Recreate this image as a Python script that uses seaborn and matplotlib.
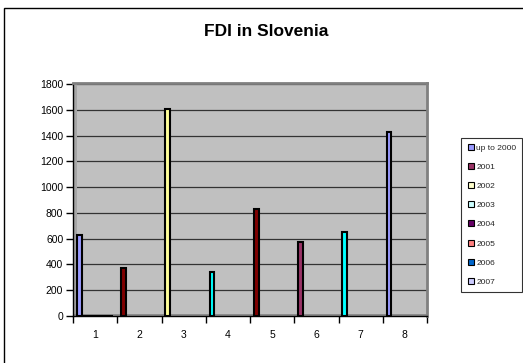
import matplotlib
matplotlib.use("Agg")
import matplotlib.pyplot as plt
from matplotlib.patches import Rectangle
from matplotlib.lines import Line2D
import seaborn as sns
import pandas as pd

# Categories on the x axis and the value shown in each of them
categories = ["1", "2", "3", "4", "5", "6", "7", "8"]
values = [630, 375, 1605, 340, 830, 575, 650, 1430]
bar_colors = ["#9999FF", "#800000", "#FFFF99", "#00FFFF",
              "#800000", "#993366", "#00FFFF", "#9999FF"]

# Series of the legend; in category 1 the later series are zero
series = ["up to 2000", "2001", "2002", "2003", "2004", "2005", "2006", "2007"]
series_colors = ["#9999FF", "#993366", "#FFFFCC", "#CCFFFF",
                 "#660066", "#FF8080", "#0066CC", "#CCCCFF"]
first_category_rest = [0, 0, 0, 0, 0, 0, 0]

y_ticks = [0, 200, 400, 600, 800, 1000, 1200, 1400, 1600, 1800]

rows = [{"category": c, "series": series[0], "value": v}
        for c, v in zip(categories, values)]
rows += [{"category": categories[0], "series": s, "value": v}
         for s, v in zip(series[1:], first_category_rest)]
df = pd.DataFrame(rows)

sns.set_theme(style="white")
plt.rcParams["font.family"] = ["Liberation Sans", "DejaVu Sans"]

W, H = 523, 363
fig = plt.figure(figsize=(W / 100, H / 100), dpi=100)
fig.patch.set_facecolor("white")

left, right, top, bottom = 73, 427, 83, 316
ax = fig.add_axes([left / W, 1 - bottom / H, (right - left) / W, (bottom - top) / H])
ax.set_facecolor("#C0C0C0")

sns.barplot(data=df, x="category", y="value", hue="series",
            order=categories, hue_order=series, palette=series_colors,
            dodge=True, width=0.82, edgecolor="black", linewidth=1.5,
            legend=False, ax=ax, zorder=3)

# bars of the first series take a colour per category
for patch, col in zip(ax.containers[0].patches, bar_colors):
    patch.set_facecolor(col)

ax.set_ylim(0, 1800 * (bottom - top) / (bottom - top - 1))
ax.set_xlim(-0.5, len(categories) - 0.5)
ax.set_yticks(y_ticks)
ax.set_yticklabels([str(t) for t in y_ticks], fontsize=7.5, color="black")
ax.yaxis.grid(True, color="#333333", linewidth=0.9, zorder=1)
ax.set_axisbelow(True)

# category labels at the centres, tick marks at the boundaries
ax.set_xticks(range(len(categories)))
ax.set_xticklabels(categories, fontsize=7.5, color="black")
ax.tick_params(axis="x", which="major", length=0, pad=10)
ax.set_xticks([i - 0.5 for i in range(len(categories) + 1)], minor=True)
ax.tick_params(axis="x", which="minor", length=5, width=1, color="black",
               direction="out", bottom=True)
ax.tick_params(axis="y", length=5, width=1, color="black", direction="out",
               left=True, pad=2)
ax.set_xlabel("")
ax.set_ylabel("")

for side in ("left", "bottom"):
    ax.spines[side].set_color("black")
    ax.spines[side].set_linewidth(1.0)
for side in ("top", "right"):
    ax.spines[side].set_color("#808080")
    ax.spines[side].set_linewidth(2.0)

# side wall and floor of the 3-D frame
ax.add_patch(Rectangle((0, 0), 3.5 / (right - left), 1, transform=ax.transAxes,
                       facecolor="#A6A6A6", edgecolor="none", zorder=2))
ax.add_patch(Rectangle((0, 0), 1, 2.5 / (bottom - top), transform=ax.transAxes,
                       facecolor="#8C8C8C", edgecolor="none", zorder=2))

fig.text(266 / W, 1 - 32 / H, "FDI in Slovenia", ha="center", va="center",
         fontsize=12.5, fontweight="bold", color="black")

handles = [Line2D([0], [0], marker="s", linestyle="none", markersize=4.5,
                  markerfacecolor=c, markeredgecolor="black",
                  markeredgewidth=0.8) for c in series_colors]
leg = fig.legend(handles, series, loc="upper left",
                 bbox_to_anchor=(461 / W, 1 - 138 / H), fontsize=6.0,
                 frameon=True, fancybox=False, borderpad=0.7,
                 labelspacing=1.36, handletextpad=0.25, handlelength=0.9,
                 borderaxespad=0)
leg.get_frame().set_edgecolor("black")
leg.get_frame().set_linewidth(0.8)

# outer chart border
fig.patches.append(Rectangle((4 / W, -0.05), 1.1, 1 - 8 / H + 0.05,
                             transform=fig.transFigure, fill=False,
                             edgecolor="black", linewidth=1.0))

fig.savefig("out.png", dpi=100)
